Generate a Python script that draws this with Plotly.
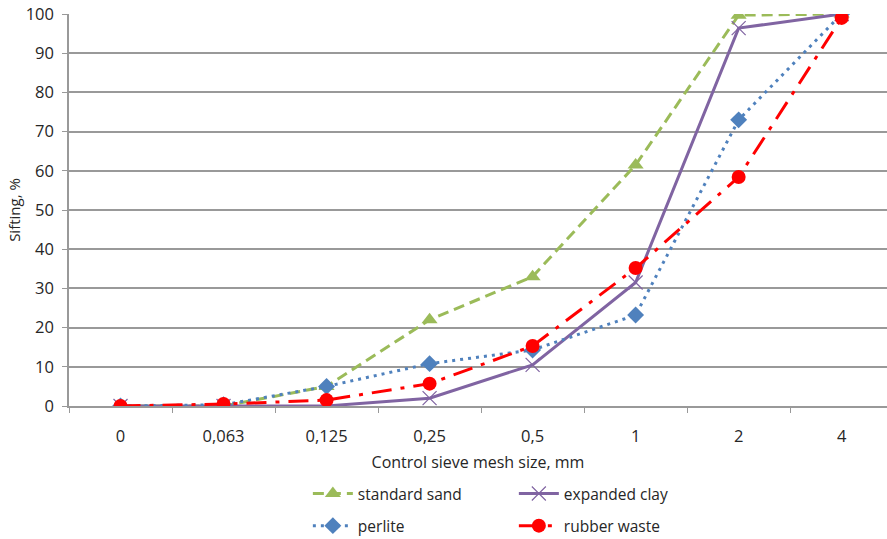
import plotly.graph_objects as go

sizes = ["0", "0,063", "0,125", "0,25", "0,5", "1", "2", "4"]
standard_sand = [0, 0, 5, 22, 33, 61.5, 99.7, 100]
expanded_clay = [0, 0, 0, 2, 10.5, 31.5, 96.4, 100]
perlite = [0, 0.3, 5, 10.8, 14.3, 23.2, 73, 100]
rubber_waste = [0, 0.5, 1.5, 5.7, 15.3, 35.2, 58.4, 99]

font = "Open Sans"
fig = go.Figure()
fig.add_trace(go.Scatter(x=sizes, y=standard_sand, name="standard sand", mode="lines+markers",
                         line=dict(color="#9BBB59", width=3, dash="11px,6px"),
                         marker=dict(symbol="triangle-up", size=14, color="#9BBB59"),
                         legend="legend"))
fig.add_trace(go.Scatter(x=sizes, y=expanded_clay, name="expanded clay", mode="lines+markers",
                         line=dict(color="#8064A2", width=3),
                         marker=dict(symbol="x-thin", size=14, line=dict(color="#8064A2", width=1.2)),
                         legend="legend"))
fig.add_trace(go.Scatter(x=sizes, y=perlite, name="perlite", mode="lines+markers",
                         line=dict(color="#4F81BD", width=3, dash="3px,5px"),
                         marker=dict(symbol="diamond", size=13, color="#4F81BD"),
                         legend="legend2"))
fig.add_trace(go.Scatter(x=sizes, y=rubber_waste, name="rubber waste", mode="lines+markers",
                         line=dict(color="#FF0000", width=3, dash="20px,9px,4px,9px"),
                         marker=dict(symbol="circle", size=14, color="#FF0000"),
                         legend="legend2"))

fig.update_layout(
    width=887, height=539,
    margin=dict(l=69, r=0, t=14, b=133, autoexpand=False),
    paper_bgcolor="white", plot_bgcolor="white",
    font=dict(family=font, size=16, color="#262626"),
    xaxis=dict(type="category", range=[-0.5, 7.44], showgrid=False,
               showline=True, linecolor="#999999", linewidth=1.5,
               ticks="outside", tickson="boundaries", ticklen=5, tickcolor="#999999",
               tickfont=dict(size=16.5), ticklabelstandoff=14,
               title=dict(text="Control sieve mesh size, mm", font=dict(size=16), standoff=11)),
    yaxis=dict(range=[0, 100], dtick=10, showgrid=True, gridcolor="#999999", gridwidth=1.5,
               showline=True, linecolor="#999999", linewidth=1.5,
               ticks="outside", ticklen=5, tickcolor="#999999",
               tickfont=dict(size=16.5), zeroline=False, ticklabelstandoff=5,
               title=dict(text="Sifting, %", font=dict(size=15), standoff=1)),
    legend=dict(orientation="h", x=0.292, y=-0.181, xanchor="left", yanchor="top",
                entrywidth=151, entrywidthmode="pixels", font=dict(size=15.5),
                itemwidth=40, tracegroupgap=0),
    legend2=dict(orientation="h", x=0.292, y=-0.263, xanchor="left", yanchor="top",
                 entrywidth=151, entrywidthmode="pixels", font=dict(size=15.5),
                 itemwidth=40, tracegroupgap=0),
)

fig.write_html("out.html", config={"displayModeBar": False},
               post_script="document.body.style.margin='0';document.body.style.overflow='hidden';")
